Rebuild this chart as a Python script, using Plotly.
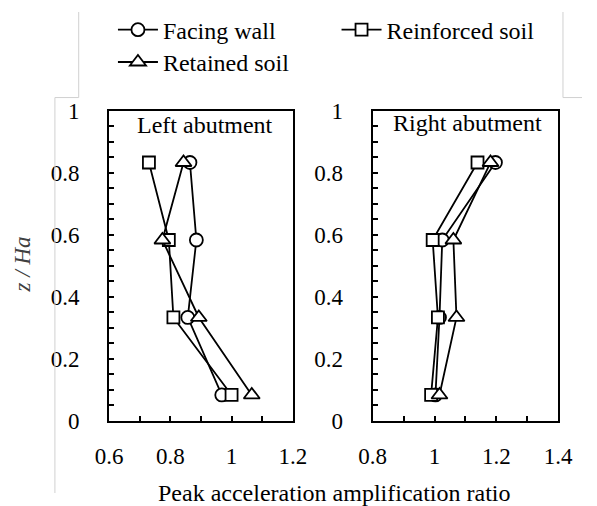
import plotly.graph_objects as go

z = [0.0833, 0.3333, 0.5833, 0.8333]

left_facing = [0.968, 0.857, 0.885, 0.864]
left_reinforced = [1.000, 0.810, 0.795, 0.730]
left_retained = [1.066, 0.893, 0.774, 0.843]

right_facing = [1.003, 1.016, 1.025, 1.197]
right_reinforced = [0.989, 1.011, 0.994, 1.139]
right_retained = [1.016, 1.071, 1.061, 1.181]

series_names = ["Facing wall", "Reinforced soil", "Retained soil"]
symbols = ["circle", "square", "triangle-up"]
sizes = [13, 12, 14]

FONT = "Liberation Serif, Times New Roman, serif"
W, H = 597, 506

fig = go.Figure()

left_data = [left_facing, left_reinforced, left_retained]
right_data = [right_facing, right_reinforced, right_retained]
legends = ["legend", "legend2", "legend3"]

for i, name in enumerate(series_names):
    fig.add_trace(go.Scatter(
        x=left_data[i], y=z, mode="lines+markers", name=name,
        xaxis="x", yaxis="y",
        line=dict(color="black", width=1.8),
        marker=dict(symbol=symbols[i], size=sizes[i], color="white",
                    line=dict(color="black", width=1.8)),
        legend=legends[i], showlegend=True,
    ))
for i, name in enumerate(series_names):
    fig.add_trace(go.Scatter(
        x=right_data[i], y=z, mode="lines+markers", name=name,
        xaxis="x2", yaxis="y2",
        line=dict(color="black", width=1.8),
        marker=dict(symbol=symbols[i], size=sizes[i], color="white",
                    line=dict(color="black", width=1.8)),
        showlegend=False,
    ))

def px_x(p):
    return p / W

def px_y(p):
    return 1 - p / H

ydom = [px_y(430), px_y(104)]

axis_common = dict(
    showline=True, mirror=True, linecolor="black", linewidth=2,
    ticks="inside", ticklen=5, tickcolor="black", tickwidth=1.5,
    showgrid=False, zeroline=False,
    tickfont=dict(family=FONT, size=23, color="black"),
)

fig.update_layout(
    width=W, height=H,
    margin=dict(l=0, r=0, t=0, b=0),
    paper_bgcolor="white", plot_bgcolor="white",
    font=dict(family=FONT, color="black"),
    xaxis=dict(domain=[px_x(100), px_x(293)], range=[0.6, 1.2],
               tickvals=[0.6, 0.8, 1.0, 1.2], ticktext=["0.6", "0.8", "1", "1.2"],
               minor=dict(dtick=0.1, ticks="inside", ticklen=5, tickcolor="black"),
               anchor="y", ticklabelstandoff=14, **axis_common),
    yaxis=dict(domain=ydom, range=[0, 1],
               tickvals=[0, 0.2, 0.4, 0.6, 0.8, 1.0], ticktext=["0", "0.2", "0.4", "0.6", "0.8", "1"],
               minor=dict(dtick=0.05, ticks="inside", ticklen=5, tickcolor="black"),
               anchor="x", ticklabelstandoff=23, **axis_common),
    xaxis2=dict(domain=[px_x(377), px_x(572)], range=[0.8, 1.4],
                tickvals=[0.8, 1.0, 1.2, 1.4], ticktext=["0.8", "1", "1.2", "1.4"],
                minor=dict(dtick=0.1, ticks="inside", ticklen=5, tickcolor="black"),
                anchor="y2", ticklabelstandoff=14, **axis_common),
    yaxis2=dict(domain=ydom, range=[0, 1],
                tickvals=[0, 0.2, 0.4, 0.6, 0.8, 1.0], ticktext=["0", "0.2", "0.4", "0.6", "0.8", "1"],
                minor=dict(dtick=0.05, ticks="inside", ticklen=5, tickcolor="black"),
                anchor="x2", ticklabelstandoff=23, **axis_common),
)

leg_common = dict(font=dict(family=FONT, size=24, color="black"),
                  bgcolor="rgba(0,0,0,0)", borderwidth=0, itemwidth=40,
                  xanchor="left", yanchor="middle")
fig.update_layout(
    legend=dict(x=px_x(104), y=px_y(19), **leg_common),
    legend2=dict(x=px_x(339), y=px_y(19), **leg_common),
    legend3=dict(x=px_x(104), y=px_y(53), **leg_common),
)

annotations = [
    dict(text="Left abutment", x=px_x(201), y=px_y(119), xref="paper", yref="paper",
         showarrow=False, xanchor="center", yanchor="middle",
         font=dict(family=FONT, size=24, color="black")),
    dict(text="Right abutment", x=px_x(477), y=px_y(117), xref="paper", yref="paper",
         showarrow=False, xanchor="center", yanchor="middle",
         font=dict(family=FONT, size=24, color="black")),
    dict(text="Peak acceleration amplification ratio", x=px_x(337), y=px_y(506),
         xref="paper", yref="paper", showarrow=False, xanchor="center", yanchor="middle",
         font=dict(family=FONT, size=24, color="black")),
    dict(text="<i>z</i><i> / Ha</i>", x=px_x(9), y=px_y(266), xref="paper", yref="paper",
         showarrow=False, xanchor="center", yanchor="middle", textangle=-90,
         font=dict(family=FONT, size=23, color="#404040")),
]
fig.update_layout(annotations=annotations)

grey = dict(color="#d0d0d0", width=1)
shapes = [
    dict(type="line", xref="paper", yref="paper", x0=px_x(68), x1=px_x(68), y0=px_y(0), y1=px_y(90), line=grey),
    dict(type="line", xref="paper", yref="paper", x0=px_x(43), x1=px_x(68), y0=px_y(90), y1=px_y(90), line=grey),
    dict(type="line", xref="paper", yref="paper", x0=px_x(43), x1=px_x(43), y0=px_y(90), y1=px_y(506), line=grey),
    dict(type="line", xref="paper", yref="paper", x0=px_x(577), x1=px_x(577), y0=px_y(0), y1=px_y(90), line=grey),
    dict(type="line", xref="paper", yref="paper", x0=px_x(577), x1=px_x(597), y0=px_y(90), y1=px_y(90), line=grey),
]
fig.update_layout(shapes=shapes)

fig.write_html("out.html")
